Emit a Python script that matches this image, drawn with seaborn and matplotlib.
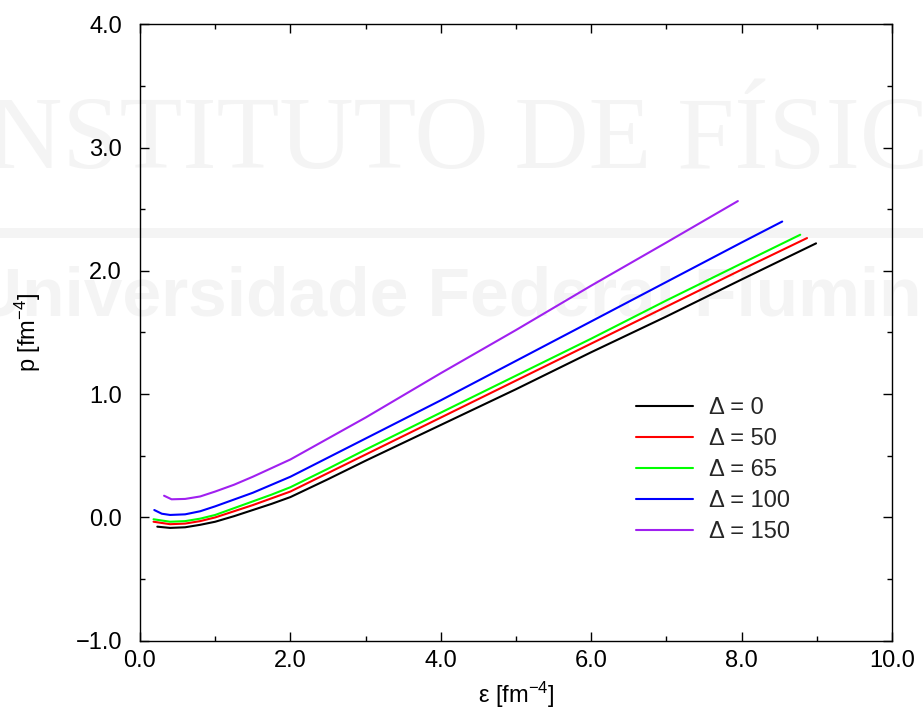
import numpy as np
import pandas as pd
import matplotlib
matplotlib.use("Agg")
import matplotlib.pyplot as plt
from matplotlib.ticker import MultipleLocator, FuncFormatter
import seaborn as sns

# ---- data ----
labels = ["Δ = 0", "Δ = 50", "Δ = 65", "Δ = 100", "Δ = 150"]
colors = ["#000000", "#ff0000", "#00ff00", "#0000ff", "#a020f0"]

eps_d0 = [0.23, 0.4, 0.6, 0.8, 1.0, 1.25, 1.5, 1.75, 2.0, 2.5, 3.0, 4.0, 5.0, 6.0, 7.0, 8.0, 8.99]
p_d0 = [-0.075, -0.085, -0.08, -0.06, -0.035, 0.01, 0.06, 0.11, 0.165, 0.31, 0.46, 0.75, 1.04, 1.34, 1.63, 1.93, 2.223]

eps_d50 = [0.18, 0.4, 0.6, 0.8, 1.0, 1.25, 1.5, 1.75, 2.0, 2.5, 3.0, 4.0, 5.0, 6.0, 7.0, 8.0, 8.87]
p_d50 = [-0.035, -0.055, -0.05, -0.03, 0.0, 0.05, 0.10, 0.155, 0.21, 0.36, 0.51, 0.81, 1.11, 1.41, 1.71, 2.01, 2.266]

eps_d65 = [0.18, 0.4, 0.6, 0.8, 1.0, 1.25, 1.5, 1.75, 2.0, 2.5, 3.0, 4.0, 5.0, 6.0, 7.0, 8.0, 8.78]
p_d65 = [-0.015, -0.035, -0.03, -0.01, 0.02, 0.075, 0.13, 0.185, 0.245, 0.395, 0.55, 0.85, 1.15, 1.45, 1.76, 2.06, 2.293]

eps_d100 = [0.19, 0.29, 0.4, 0.6, 0.8, 1.0, 1.25, 1.5, 1.75, 2.0, 2.5, 3.0, 4.0, 5.0, 6.0, 7.0, 8.0, 8.54]
p_d100 = [0.06, 0.03, 0.02, 0.025, 0.05, 0.09, 0.145, 0.20, 0.265, 0.33, 0.485, 0.64, 0.95, 1.27, 1.59, 1.91, 2.23, 2.40]

eps_d150 = [0.32, 0.42, 0.6, 0.8, 1.0, 1.25, 1.5, 1.75, 2.0, 2.5, 3.0, 4.0, 5.0, 6.0, 7.0, 7.95]
p_d150 = [0.176, 0.147, 0.15, 0.17, 0.21, 0.265, 0.33, 0.40, 0.47, 0.64, 0.81, 1.17, 1.52, 1.88, 2.23, 2.566]

x_ticks = [0.0, 2.0, 4.0, 6.0, 8.0, 10.0]
y_ticks = [-1.0, 0.0, 1.0, 2.0, 3.0, 4.0]

series = [(eps_d0, p_d0), (eps_d50, p_d50), (eps_d65, p_d65),
          (eps_d100, p_d100), (eps_d150, p_d150)]

sns.set_theme(style="ticks")
plt.rcParams["font.family"] = ["Liberation Sans", "DejaVu Sans"]
plt.rcParams["mathtext.fontset"] = "custom"
plt.rcParams["mathtext.rm"] = "Liberation Sans"
plt.rcParams["mathtext.it"] = "Liberation Sans"

fig = plt.figure(figsize=(9.23, 7.16), dpi=100)
fig.patch.set_facecolor("white")

# faint background watermark
wm = "#f4f4f4"
fig.text(-0.05, 0.80, "INSTITUTO DE FÍSICA", family="Liberation Serif",
         fontsize=74, color=wm, ha="left", va="center", zorder=-5)
fig.text(-0.03, 0.585, "Universidade Federal Fluminense", family="Liberation Sans",
         fontweight="bold", fontsize=50, color=wm, ha="left", va="center", zorder=-5)
fig.patches.append(plt.Rectangle((0, 1 - 238 / 716), 1, 10 / 716,
                                 transform=fig.transFigure, color="#f4f4f4",
                                 zorder=-5, lw=0))

ax = fig.add_axes([140 / 923, 1 - 640.7 / 716, (892 - 140) / 923, (640.7 - 24.3) / 716])
ax.patch.set_alpha(0)
ax.set_zorder(2)

frames = []
for (e, p), lab in zip(series, labels):
    frames.append(pd.DataFrame({"eps": e, "p": p, "series": lab}))
df = pd.concat(frames, ignore_index=True)

sns.lineplot(data=df, x="eps", y="p", hue="series", hue_order=labels,
             palette=colors, sort=False, estimator=None, linewidth=1.5, ax=ax)

ax.set_xlim(0, 10)
ax.set_ylim(-1, 4)
ax.set_xticks(x_ticks)
ax.set_yticks(y_ticks)
ax.xaxis.set_minor_locator(MultipleLocator(1))
ax.yaxis.set_minor_locator(MultipleLocator(0.5))
fmt = FuncFormatter(lambda v, pos: f"{v:.1f}".replace("-", "\u2212"))
ax.xaxis.set_major_formatter(fmt)
ax.yaxis.set_major_formatter(fmt)
ax.tick_params(which="both", direction="in", top=True, right=True,
               labelsize=17, color="black", labelcolor="black", width=1)
ax.tick_params(which="major", length=6.5)
ax.tick_params(which="minor", length=3.5)
ax.tick_params(axis="x", which="major", pad=7)
ax.tick_params(axis="y", which="major", pad=13)
for s in ax.spines.values():
    s.set_visible(True)
    s.set_color("black")
    s.set_linewidth(1.0)

ax.set_xlabel(r"ε [fm$^{-4}$]", fontsize=17, color="black", labelpad=5)
ax.set_ylabel(r"p [fm$^{-4}$]", fontsize=17, color="black", labelpad=23)

ax.legend(frameon=False, fontsize=17, loc="upper left",
          bbox_to_anchor=(636 / 923, 1 - 397 / 716), bbox_transform=fig.transFigure,
          borderpad=0, borderaxespad=0, handlelength=2.4, handletextpad=0.7,
          labelspacing=0.38, title=None)

fig.savefig("out.png", dpi=100)
